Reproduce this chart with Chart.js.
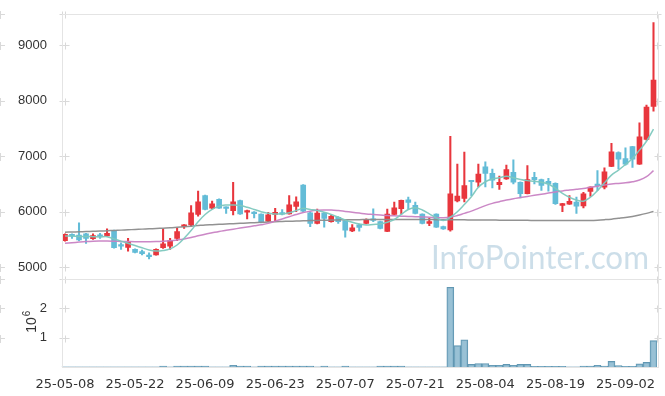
<!DOCTYPE html>
<html><head><meta charset="utf-8">
<script src="https://cdn.jsdelivr.net/npm/chart.js@4/dist/chart.umd.min.js"></script>
<style>html,body{margin:0;padding:0;background:#fff}#wrap{width:665px;height:396px;position:relative}</style>
</head><body><div id="wrap"><canvas id="c" width="665" height="396"></canvas></div>
<script>
const dates = ['25-05-08','25-05-09','25-05-12','25-05-13','25-05-14','25-05-15','25-05-16','25-05-19','25-05-20','25-05-21',
'25-05-22','25-05-23','25-05-26','25-05-27','25-05-28','25-05-29','25-05-30','25-06-02','25-06-04','25-06-05',
'25-06-09','25-06-10','25-06-11','25-06-12','25-06-13','25-06-16','25-06-17','25-06-18','25-06-19','25-06-20',
'25-06-23','25-06-24','25-06-25','25-06-26','25-06-27','25-06-30','25-07-01','25-07-02','25-07-03','25-07-04',
'25-07-07','25-07-08','25-07-09','25-07-10','25-07-11','25-07-14','25-07-15','25-07-16','25-07-17','25-07-18',
'25-07-21','25-07-22','25-07-23','25-07-24','25-07-25','25-07-28','25-07-29','25-07-30','25-07-31','25-08-01',
'25-08-04','25-08-05','25-08-06','25-08-07','25-08-08','25-08-11','25-08-12','25-08-13','25-08-14','25-08-18',
'25-08-19','25-08-20','25-08-21','25-08-22','25-08-25','25-08-26','25-08-27','25-08-28','25-08-29','25-09-01',
'25-09-02','25-09-03','25-09-04','25-09-05','25-09-08'];

const open = [5480,5590,5580,5600,5515,5575,5565,5665,5395,5355,
5320,5280,5220,5220,5350,5380,5520,5735,5760,5950,
6290,6065,6225,6080,6020,6200,5990,5990,5955,5830,
5950,5975,5960,6095,6480,5980,5790,5975,5820,5900,
5840,5655,5765,5790,5855,5820,5645,5950,6056,6215,
6116,5955,5790,5955,5730,5671,6195,6240,6545,6531,
6810,6690,6485,6590,6710,6531,6323,6620,6579,6545,
6513,6115,6135,6175,6104,6365,6480,6442,6818,7065,
6958,7172,6857,7303,7896];
const high = [5600,5600,5800,5610,5600,5610,5690,5670,5440,5520,
5330,5310,5260,5330,5690,5520,5700,5770,6110,6370,
6300,6190,6230,6090,6530,6210,6030,6000,5960,5990,
6060,6040,6290,6270,6490,5990,6045,5990,5940,5910,
5850,5770,5775,5870,6050,5830,6045,6175,6210,6264,
6175,5960,5880,5960,5740,7360,6860,7075,6550,6857,
6900,6770,6640,6840,6935,6540,6830,6710,6590,6600,
6520,6150,6290,6264,6350,6450,6740,6790,7230,7080,
7150,7180,7600,7920,9410];
const low = [5470,5520,5480,5430,5500,5520,5560,5345,5320,5290,
5255,5220,5150,5215,5340,5320,5480,5700,5740,5920,
6030,6050,6060,5970,5940,5950,5870,5890,5800,5820,
5830,5940,5955,6000,6000,5730,5780,5720,5810,5790,
5540,5640,5650,5780,5820,5690,5640,5940,5960,6045,
5960,5780,5750,5715,5680,5650,6175,6175,6290,6445,
6445,6430,6400,6580,6500,6250,6320,6500,6383,6370,
6130,6000,6130,5967,6070,6275,6385,6410,6810,6770,
6840,6800,6850,7290,7810];
const close = [5590,5560,5490,5520,5570,5555,5610,5350,5380,5450,
5265,5245,5190,5320,5420,5480,5640,5760,5980,6180,
6040,6140,6065,6060,6180,5960,6020,5965,5815,5945,
5990,5955,6125,6180,6010,5790,5975,5880,5915,5820,
5665,5710,5715,5860,5845,5700,5955,6070,6205,6165,
5967,5790,5820,5720,5690,6323,6280,6470,6540,6679,
6690,6570,6531,6760,6530,6323,6579,6575,6472,6500,
6145,6145,6187,6098,6323,6442,6470,6720,7077,6946,
6857,6946,7350,7884,8370];
const volume = [3000,3000,3000,3000,3000,3000,3000,3000,3000,3000,
3000,3000,3000,3000,30000,3000,30000,30000,30000,30000,
30000,3000,3000,3000,60000,30000,30000,3000,30000,30000,
30000,30000,30000,30000,30000,30000,3000,30000,3000,3000,
30000,3000,3000,3000,3000,30000,30000,30000,30000,3000,
3000,3000,3000,3000,3000,2720000,730000,930000,90000,120000,
120000,56000,56000,90000,56000,90000,90000,22000,22000,22000,
22000,22000,3000,3000,30000,30000,56000,30000,190000,45000,
22000,22000,110000,160000,900000];
const ma5 = [5560,5560,5555,5555,5550,5545,5550,5510,5470,5430,
5390,5350,5310,5290,5300,5330,5400,5520,5660,5820,
5950,6040,6100,6120,6120,6110,6080,6040,6000,5970,
5960,5960,5980,6020,6060,6040,6020,5990,5950,5900,
5850,5810,5780,5760,5770,5780,5810,5860,5950,6040,
6070,6030,5960,5890,5840,5900,6000,6130,6270,6440,
6540,6590,6610,6640,6610,6580,6560,6550,6530,6500,
6420,6330,6260,6210,6190,6260,6380,6520,6660,6750,
6850,6960,7110,7270,7490];
const ma20 = [5430,5440,5452,5462,5468,5470,5470,5468,5465,5462,
5460,5460,5460,5462,5468,5478,5492,5510,5535,5565,
5595,5620,5645,5665,5685,5705,5725,5745,5765,5790,
5830,5870,5910,5950,5985,6010,6025,6030,6030,6020,
6005,5990,5975,5960,5950,5940,5930,5925,5920,5915,
5910,5905,5900,5895,5890,5900,5930,5970,6010,6060,
6110,6150,6180,6210,6235,6255,6275,6295,6315,6335,
6355,6375,6390,6405,6420,6440,6460,6480,6500,6510,
6520,6540,6570,6630,6740];
const ma120 = [5630,5634,5638,5642,5646,5650,5656,5662,5668,5674,
5680,5686,5692,5698,5704,5710,5720,5730,5740,5750,
5760,5766,5772,5778,5784,5790,5796,5802,5808,5814,
5820,5824,5828,5832,5836,5840,5843,5846,5849,5852,
5855,5856,5857,5858,5859,5860,5860,5860,5860,5860,
5860,5859,5858,5857,5856,5855,5854,5853,5852,5851,
5850,5849,5848,5847,5846,5845,5844,5843,5842,5841,
5840,5840,5840,5841,5842,5843,5848,5856,5866,5880,
5895,5915,5940,5970,6005];
const priceTicks = [5000,6000,7000,8000,9000];
const volumeTicks = [1000000,2000000];
const volumeUnitLabel = '10';
const volumeUnitExp = '6';
const watermark = 'InfoPointer.com';

const RED = '#e8363d', BLUE = '#63bcd7';
const candleColor = c => close[c.dataIndex] >= open[c.dataIndex] ? RED : BLUE;
const GRIDC = '#d9d9d9', FRAMEC = '#e4e4e4';

const decor = {
  id: 'decor',
  beforeDatasetsDraw(chart) {
    const {ctx, chartArea: a, scales: {x, y, yv}} = chart;
    ctx.save();
    ctx.font = '33px Lato, "Liberation Sans", sans-serif';
    ctx.fillStyle = 'rgba(170,200,218,0.6)';
    ctx.textAlign = 'right'; ctx.textBaseline = 'alphabetic';
    const tw = ctx.measureText(watermark).width;
    ctx.translate(649, 269);
    ctx.scale(Math.min(1, 218 / tw), 1);
    ctx.fillText(watermark, 0, 0);
    ctx.restore();
    ctx.save();
    // crosses at grid intersections
    const xs = [];
    dates.forEach((d, i) => { if (i % 10 === 0) xs.push(x.getPixelForTick(i)); });
    const ys = priceTicks.map(v => y.getPixelForValue(v)).concat(volumeTicks.map(v => yv.getPixelForValue(v)));
    ctx.strokeStyle = GRIDC; ctx.lineWidth = 1;
    ctx.beginPath();
    const arm = 3;
    const allX = xs.concat([a.left, a.right]);
    const allY = ys.concat([a.top, y.bottom]);
    allX.forEach(px => allY.forEach(py => {
      const X = Math.round(px) + 0.5, Y = Math.round(py) + 0.5;
      ctx.moveTo(X - arm, Y); ctx.lineTo(X + arm + 1, Y);
      ctx.moveTo(X, Y - arm); ctx.lineTo(X, Y + arm + 1);
    }));
    ctx.stroke();
    ctx.restore();
  },
  afterDatasetsDraw(chart) {
    const {ctx, chartArea: a, scales: {y}} = chart;
    ctx.save();
    ctx.strokeStyle = FRAMEC; ctx.lineWidth = 1;
    ctx.strokeRect(Math.round(a.left) + 0.5, Math.round(a.top) + 0.5, Math.round(a.right - a.left), Math.round(a.bottom - a.top));
    ctx.beginPath();
    const sy = Math.round(y.bottom) + 0.5;
    ctx.moveTo(a.left, sy); ctx.lineTo(a.right, sy); ctx.stroke();
    // volume unit title
    ctx.translate(36, 322); ctx.rotate(-Math.PI / 2);
    ctx.fillStyle = '#333'; ctx.textBaseline = 'alphabetic';
    ctx.font = '14px "Liberation Sans", sans-serif';
    const w = ctx.measureText(volumeUnitLabel).width;
    ctx.fillText(volumeUnitLabel, -w / 2 - 3, 0);
    ctx.font = '10px "Liberation Sans", sans-serif';
    ctx.fillText(volumeUnitExp, w / 2 - 2, -6);
    ctx.restore();
  }
};

const tickFont = {family: '"Liberation Sans", sans-serif', size: 13};

new Chart(document.getElementById('c'), {
  data: {
    labels: dates,
    datasets: [
      {type: 'line', label: 'MA5', data: ma5, yAxisID: 'y', borderColor: 'rgba(125,200,190,0.95)', borderWidth: 1.5, pointRadius: 0, tension: 0.4, order: 0},
      {type: 'line', label: 'MA20', data: ma20, yAxisID: 'y', borderColor: 'rgba(200,130,195,0.95)', borderWidth: 1.5, pointRadius: 0, tension: 0.4, order: 0},
      {type: 'line', label: 'MA120', data: ma120, yAxisID: 'y', borderColor: 'rgba(140,140,140,0.95)', borderWidth: 1.5, pointRadius: 0, tension: 0.4, order: 0},
      {type: 'bar', label: 'wick', data: dates.map((d, i) => [low[i], high[i]]), yAxisID: 'y', grouped: false, barThickness: 1.4, backgroundColor: candleColor, borderWidth: 0, order: 2},
      {type: 'bar', label: 'body', data: dates.map((d, i) => [open[i], close[i]]), yAxisID: 'y', grouped: false, barThickness: 5, minBarLength: 1.5, backgroundColor: candleColor, borderWidth: 0, order: 1},
      {type: 'bar', label: 'volume', data: volume, yAxisID: 'yv', grouped: false, barPercentage: 1, categoryPercentage: 1, backgroundColor: 'rgba(135,182,206,0.85)', borderColor: 'rgba(80,140,170,0.9)', borderWidth: 1, order: 3}
    ]
  },
  options: {
    responsive: false, animation: false, devicePixelRatio: 1,
    layout: {padding: {top: 10, right: 8, left: 0, bottom: 0}},
    plugins: {legend: {display: false}, tooltip: {enabled: false}},
    scales: {
      x: {type: 'category', offset: true, grid: {display: false}, border: {display: false},
          ticks: {autoSkip: false, maxRotation: 0, minRotation: 0, padding: 2, color: '#333', font: {family: '"DejaVu Sans", sans-serif', size: 13},
                  callback: (v, i) => i % 10 === 0 ? dates[i] : null},
          afterFit: s => { s.height = 29; }},
      yv: {type: 'linear', position: 'left', stack: 'p', stackWeight: 89, weight: 1, min: 0, max: 3000000,
           grid: {display: false}, border: {display: false},
           ticks: {padding: 6.5, color: '#333', font: tickFont, callback: v => String(v / 1000000)},
           afterBuildTicks: s => { s.ticks = volumeTicks.map(v => ({value: v})); },
           afterFit: s => { s.width = 61.5; }},
      y: {type: 'linear', position: 'left', stack: 'p', stackWeight: 268, weight: 2, min: 4786, max: 9557,
          grid: {display: false}, border: {display: false},
          ticks: {padding: 6.5, color: '#333', font: tickFont, callback: v => String(v)},
          afterBuildTicks: s => { s.ticks = priceTicks.map(v => ({value: v})); },
          afterFit: s => { s.width = 61.5; }}
    }
  },
  plugins: [decor]
});
</script>
</body></html>
